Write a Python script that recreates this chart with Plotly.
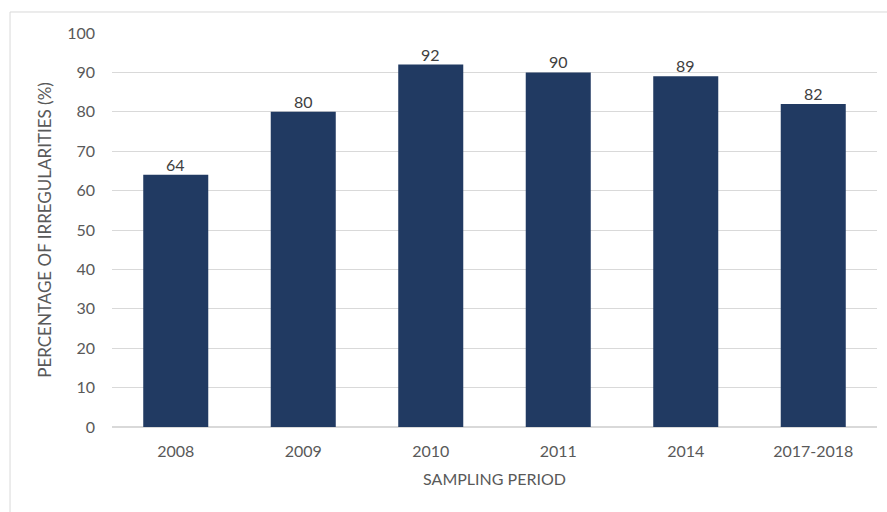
import plotly.graph_objects as go

# Sampling periods and the share of samples with irregularities
periods = ["2008", "2009", "2010", "2011", "2014", "2017-2018"]
irregularities = [64, 80, 92, 90, 89, 82]
y_ticks = [0, 10, 20, 30, 40, 50, 60, 70, 80, 90, 100]

BAR_COLOR = "#213a62"
GRID_COLOR = "#d9d9d9"
TICK_COLOR = "#595959"
FONT = "Lato, 'Open Sans', sans-serif"
SIZE = 16

fig = go.Figure(
    go.Bar(
        x=periods,
        y=irregularities,
        marker=dict(color=BAR_COLOR, line=dict(width=0)),
        cliponaxis=False,
    )
)

# value labels sitting just above each bar (category position by index)
for idx, value in enumerate(irregularities):
    fig.add_annotation(
        x=idx,
        y=value,
        text=str(value),
        showarrow=False,
        yanchor="bottom",
        yshift=-1,
        font=dict(family=FONT, size=SIZE, color="#404040"),
    )

fig.update_layout(
    width=887,
    height=512,
    margin=dict(l=112, r=10, t=33, b=85),
    paper_bgcolor="white",
    plot_bgcolor="white",
    bargap=0.49,
    showlegend=False,
    font=dict(family=FONT, size=SIZE, color=TICK_COLOR),
    shapes=[
        # light frame around the chart area
        dict(
            type="rect",
            xref="paper",
            yref="paper",
            x0=-0.1333,
            x1=1.1,
            y0=-0.3,
            y1=1.0533,
            line=dict(color="#d9d9d9", width=1),
            fillcolor="rgba(0,0,0,0)",
            layer="below",
        )
    ],
)

fig.update_xaxes(
    type="category",
    categoryorder="array",
    categoryarray=periods,
    range=[-0.5, len(periods) - 0.5],
    title=dict(text="SAMPLING PERIOD", font=dict(family=FONT, size=SIZE, color=TICK_COLOR), standoff=14),
    tickfont=dict(family=FONT, size=SIZE, color=TICK_COLOR),
    showgrid=False,
    showline=False,
    ticks="",
    ticklabelstandoff=13,
)

fig.update_yaxes(
    title=dict(text="PERCENTAGE OF IRREGULARITIES (%)", font=dict(family=FONT, size=17, color=TICK_COLOR), standoff=11),
    range=[0, 100],
    tickvals=y_ticks,
    tickfont=dict(family=FONT, size=SIZE, color=TICK_COLOR),
    showgrid=True,
    gridcolor=GRID_COLOR,
    gridwidth=1,
    zeroline=True,
    zerolinecolor=GRID_COLOR,
    showline=False,
    ticks="",
    ticklabelstandoff=16,
)

fig.write_html("out.html")
